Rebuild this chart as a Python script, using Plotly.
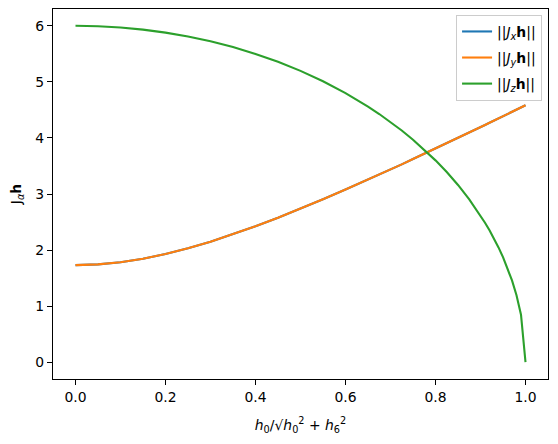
import plotly.graph_objects as go

# x = h0 / sqrt(h0^2 + h6^2)
x_vals = [0.0, 0.05, 0.1, 0.15, 0.2, 0.25, 0.3, 0.35, 0.4, 0.45, 0.5, 0.55, 0.6,
          0.625, 0.65, 0.675, 0.7, 0.725, 0.75, 0.775, 0.8, 0.825, 0.85, 0.875,
          0.9, 0.91, 0.92, 0.93, 0.94, 0.95, 0.96, 0.97, 0.98, 0.99, 1.0]
jx_vals = [1.732, 1.745, 1.783, 1.845, 1.929, 2.031, 2.149, 2.281, 2.425, 2.578,
           2.739, 2.906, 3.079, 3.167, 3.257, 3.347, 3.438, 3.529, 3.623, 3.716,
           3.811, 3.905, 4.001, 4.096, 4.193, 4.232, 4.270, 4.309, 4.348, 4.387,
           4.426, 4.465, 4.504, 4.543, 4.583]
jy_vals = [1.732, 1.745, 1.783, 1.845, 1.929, 2.031, 2.149, 2.281, 2.425, 2.578,
           2.739, 2.906, 3.079, 3.167, 3.257, 3.347, 3.438, 3.529, 3.623, 3.716,
           3.811, 3.905, 4.001, 4.096, 4.193, 4.232, 4.270, 4.309, 4.348, 4.387,
           4.426, 4.465, 4.504, 4.543, 4.583]
jz_vals = [6.000, 5.993, 5.970, 5.932, 5.879, 5.809, 5.724, 5.621, 5.499, 5.358,
           5.196, 5.011, 4.800, 4.684, 4.560, 4.427, 4.285, 4.133, 3.969, 3.792,
           3.600, 3.391, 3.161, 2.905, 2.615, 2.488, 2.352, 2.205, 2.047, 1.873,
           1.680, 1.459, 1.194, 0.846, 0.0]

names = ["||<i>J<sub>x</sub></i><b>h</b>||",
         "||<i>J<sub>y</sub></i><b>h</b>||",
         "||<i>J<sub>z</sub></i><b>h</b>||"]
colors = ["#1f77b4", "#ff7f0e", "#2ca02c"]
series = [jx_vals, jy_vals, jz_vals]

FONT = "DejaVu Sans"

fig = go.Figure()
for i, (ys, nm, c) in enumerate(zip(series, names, colors)):
    fig.add_trace(go.Scatter(x=x_vals, y=ys, mode="lines", name=nm,
                             legendgroup=f"g{i}",
                             line=dict(color=c, width=2.1)))

axis_common = dict(showline=True, linecolor="black", linewidth=1.1, mirror=True,
                   ticks="outside", ticklen=5, tickwidth=1.1, tickcolor="black",
                   showgrid=False, zeroline=False,
                   tickfont=dict(family=FONT, size=13.9, color="black"))

fig.update_layout(
    width=558, height=444,
    margin=dict(l=53, r=10, t=9, b=65),
    plot_bgcolor="white", paper_bgcolor="white",
    font=dict(family=FONT, size=13.9, color="black"),
    xaxis=dict(range=[-0.05, 1.05], tickvals=[0, 0.2, 0.4, 0.6, 0.8, 1.0],
               tickformat=".1f",
               title=dict(text="<i>h</i><sub>0</sub>/√<i>h</i><sub>0</sub><sup>2</sup> + <i>h</i><sub>6</sub><sup>2</sup>",
                          standoff=16, font=dict(family=FONT, size=13.9)),
               **axis_common),
    yaxis=dict(range=[-0.3, 6.3], tickvals=[0, 1, 2, 3, 4, 5, 6],
               title=dict(text="J<sub><i>α</i></sub><b>h</b>", standoff=10,
                          font=dict(family=FONT, size=13.9)),
               **axis_common),
    showlegend=True,
    legend=dict(x=0.988, y=0.984, xanchor="right", yanchor="top",
                bordercolor="#cccccc", borderwidth=1, bgcolor="rgba(255,255,255,0.8)",
                font=dict(family=FONT, size=13.9), itemwidth=30,
                tracegroupgap=5),
)

fig.write_html("out.html")
